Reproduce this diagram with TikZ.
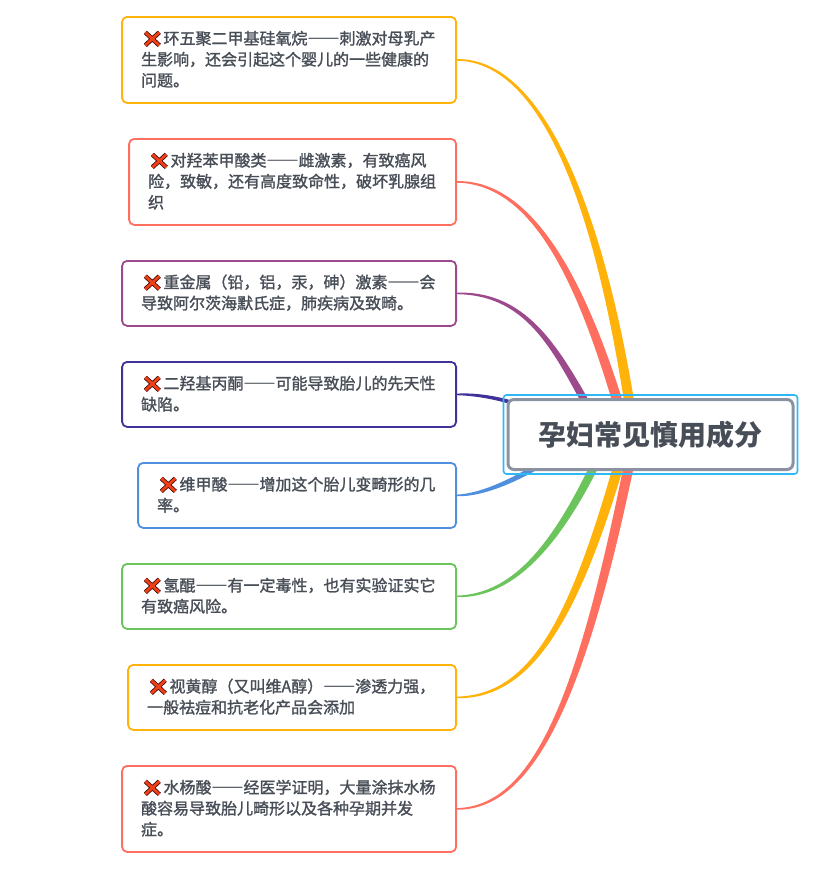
\documentclass[tikz,border=0pt]{standalone}
\usepackage{fontspec}
\setmainfont[Script=CJK,Language=Chinese Simplified]{Noto Sans CJK SC}
\newfontfamily\leaffont[Script=CJK,Language=Chinese Simplified,FakeBold=1.4]{Noto Sans CJK SC}
\usepackage{tikz}
\usetikzlibrary{calc}
\usetikzlibrary{fit}
\usetikzlibrary{backgrounds}

\definecolor{mapYellow}{HTML}{FFB20A}
\definecolor{mapRed}{HTML}{FF6F5F}
\definecolor{mapPurple}{HTML}{9C4A8C}
\definecolor{mapIndigo}{HTML}{3F3298}
\definecolor{mapBlue}{HTML}{4F8FDD}
\definecolor{mapGreen}{HTML}{6CC45C}
\definecolor{mapText}{HTML}{484E57}
\definecolor{mapGray}{HTML}{8B93A3}
\definecolor{mapFrame}{HTML}{2FB8F6}
\definecolor{mapCross}{HTML}{EE3F17}

\tikzset{
    leaf/.style 2 args = {draw, fill = white, rounded corners = 5, line width = 1.8,
        anchor = north east, text = mapText, align = left, inner xsep = 19, inner ysep = 0,
        font = \leaffont\fontsize{16}{21}\selectfont,
        execute at end node = {\par\vspace*{2pt}},
        text width = #1 - 38, minimum height = #2},
    rootbox/.style = {draw = mapGray, fill = white, rounded corners = 6, line width = 3,
        text = mapText, minimum width = 285, minimum height = 70,
        font = \fontsize{28}{32}\selectfont\bfseries}
}

%% tapered branch: leaf, colour, two control points, end offset from root, half width there
\newcommand{\taper}[6]{
    \fill[#2] ($(#1.east) + (0, -.8)$) .. controls ($(#3) + (0, -2.2)$) and ($(#4) + .85*(#6)$)
        .. ($(root.center) + (#5) + (#6)$) -- ($(root.center) + (#5) - (#6)$)
        .. controls ($(#4) - .85*(#6)$) and ($(#3) + (0, 2.2)$) .. ($(#1.east) + (0, .8)$) -- cycle;
}
\newcommand{\xicon}{\hspace*{2pt}\tikz[baseline = 1pt, line cap = butt]{
    \draw[line width = 4.4pt, color = black!80!red] (0pt, 0pt) -- (14pt, 13pt) (14pt, 0pt) -- (0pt, 13pt);
    \draw[line width = 2.9pt, color = mapCross] (0pt, 0pt) -- (14pt, 13pt) (14pt, 0pt) -- (0pt, 13pt);
}\hspace{2pt}}

\begin{document}
\begin{tikzpicture}[x = 1pt, y = -1pt]
    \useasboundingbox (0, 0) rectangle (832, 870);

    %% centre
    \node[rootbox] (root) at (650.5, 434.5) {孕妇常见慎用成分};
    \node[draw = mapFrame, line width = 1.6, rounded corners = 3, fit = (root), inner sep = 3] (frame) {};

    %% leaves
    \node[leaf = {334}{86}, draw = mapYellow] (siloxane) at (457, 16)
        {\xicon 环五聚二甲基硅氧烷——刺激对母乳产\\生影响，还会引起这个婴儿的一些健康的\\问题。};
    \node[leaf = {327}{86}, draw = mapRed] (paraben) at (457, 138)
        {\xicon 对羟苯甲酸类——雌激素，有致癌风\\险，致敏，还有高度致命性，破坏乳腺组\\织};
    \node[leaf = {334}{65}, draw = mapPurple] (metal) at (457, 260)
        {\xicon 重金属（铅，铝，汞，砷）激素——会\\导致阿尔茨海默氏症，肺疾病及致畸。};
    \node[leaf = {334}{65}, draw = mapIndigo] (acetone) at (457, 361)
        {\xicon 二羟基丙酮——可能导致胎儿的先天性\\缺陷。};
    \node[leaf = {318}{65}, draw = mapBlue] (tretinoin) at (457, 462)
        {\xicon 维甲酸——增加这个胎儿变畸形的几\\率。};
    \node[leaf = {334}{65}, draw = mapGreen] (quinone) at (457, 563)
        {\xicon 氢醌——有一定毒性，也有实验证实它\\有致癌风险。};
    \node[leaf = {328}{65}, draw = mapYellow] (retinol) at (457, 664)
        {\xicon 视黄醇（又叫维A醇）——渗透力强，\\一般祛痘和抗老化产品会添加};
    \node[leaf = {334}{86}, draw = mapRed] (salicylic) at (457, 765)
        {\xicon 水杨酸——经医学证明，大量涂抹水杨\\酸容易导致胎儿畸形以及各种孕期并发\\症。};

    %% branches
    \begin{pgfonlayer}{background}
        \taper{siloxane}{mapYellow}{546, 60}{602, 220}{-18.5, -14.5}{5, -1}
        \taper{paraben}{mapRed}{536, 182}{585, 290}{-27.5, -14.5}{5, -1.5}
        \taper{metal}{mapPurple}{531, 293}{559, 355}{-52.5, -9.5}{3.6, -2}
        \taper{acetone}{mapIndigo}{490, 394}{530, 405}{-85.5, -9.5}{.4, -2.2}
        \taper{tretinoin}{mapBlue}{490, 495}{535, 470}{-80.5, 10.5}{-1.8, -3}
        \taper{quinone}{mapGreen}{516, 596}{560, 540}{-48.5, 15.5}{-4, -1.9}
        \taper{retinol}{mapYellow}{531, 697}{575, 620}{-27.5, 15.5}{-5, -1.4}
        \taper{salicylic}{mapRed}{536, 808}{584, 690}{-18.5, 15.5}{-5, -1}
    \end{pgfonlayer}
\end{tikzpicture}
\end{document}
